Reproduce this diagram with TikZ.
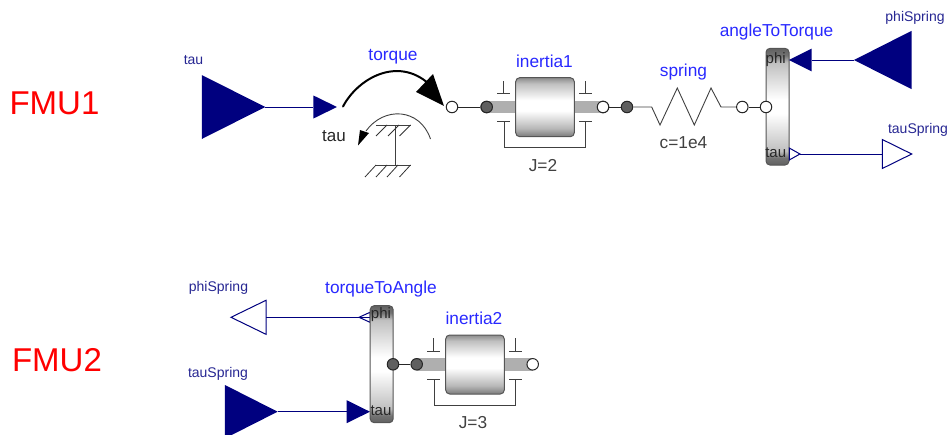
\documentclass[tikz,border=0pt]{standalone}
\usepackage{fontspec}
\setmainfont{Liberation Sans}
\definecolor{navy}{RGB}{0,0,127}
\definecolor{lbl}{RGB}{40,40,255}
\definecolor{edge}{RGB}{85,85,85}
\definecolor{hub}{RGB}{95,95,95}
\definecolor{shaftc}{RGB}{175,175,175}
\pgfdeclareverticalshading{bodyshade}{100bp}{color(0bp)=(black!52); color(25bp)=(black!52); color(32bp)=(black!28); color(47bp)=(white); color(56bp)=(white); color(70bp)=(black!25); color(75bp)=(black!45); color(100bp)=(black!45)}
\pgfdeclareverticalshading{flangeshade}{100bp}{color(0bp)=(black!62); color(25bp)=(black!62); color(28bp)=(black!55); color(31bp)=(black!25); color(47bp)=(white); color(53bp)=(white); color(69bp)=(black!25); color(72bp)=(black!55); color(75bp)=(black!62); color(100bp)=(black!62)}
\tikzset{
  x=1pt,y=-1pt,
  sig/.style={draw=navy,line width=1pt},
  mech/.style={draw=black!85,line width=1pt},
  thin mech/.style={draw=black!75,line width=.9pt},
  hatch/.style={draw=black!80,line width=.8pt},
  body/.style={draw=edge,line width=1pt,rounded corners=4pt,shading=bodyshade,minimum width=58.6pt,minimum height=59pt,inner sep=0pt},
  flange/.style={draw=edge,line width=1pt,rounded corners=4pt,shading=flangeshade,minimum width=23pt,inner sep=0pt},
  shaft/.style={fill=shaftc,draw=none,inner sep=0pt,minimum height=12.6pt},
  dark/.style={circle,draw=black!85,line width=1pt,fill=hub,minimum size=11.5pt,inner sep=0pt},
  light/.style={circle,draw=black!85,line width=1pt,fill=white,minimum size=11.5pt,inner sep=0pt},
  namelbl/.style={text=lbl,font=\fontsize{17.3}{19}\selectfont,inner sep=0pt},
  parlbl/.style={text=black!75,font=\fontsize{17.3}{19}\selectfont,inner sep=0pt},
  iolbl/.style={text=navy!85,font=\fontsize{14}{16}\selectfont,inner sep=0pt},
  fmulbl/.style={text=red,font=\fontsize{33}{36}\selectfont,inner sep=0pt},
  flangelbl/.style={text=black!85,font=\fontsize{15}{17}\selectfont,inner sep=0pt},
}
\newcommand{\triR}[5]{\node[inner sep=0pt,outer sep=0pt,minimum width=#3pt,minimum height=#4pt] (#1) at (#2) {};
  \path[#5,line join=miter] (#1.north west) -- (#1.south west) -- (#1.east) -- cycle;}
\newcommand{\triL}[5]{\node[inner sep=0pt,outer sep=0pt,minimum width=#3pt,minimum height=#4pt] (#1) at (#2) {};
  \path[#5,line join=miter] (#1.north east) -- (#1.south east) -- (#1.west) -- cycle;}
\begin{document}
\begin{tikzpicture}
\useasboundingbox (0,0) rectangle (950,434);
\clip (0,0) rectangle (950,434);
% FMU labels
\node[fmulbl] (fmuA) at (54.5,103.5) {FMU1};
\node[fmulbl] (fmuB) at (57,360.5) {FMU2};

% ---------- FMU1 ----------
\triR{tauIn}{233.5,107}{63.5}{64}{fill=navy}
\triR{torquePort}{325.2,107}{23.5}{23}{fill=navy}
\draw[sig] (tauIn.east) -- (torquePort.west);
\node[iolbl] (tauInLbl) at (193.5,60.5) {tau};
\node[namelbl] (torqueLbl) at (393,56.5) {torque};
\node[text=black!85,font=\fontsize{17}{19}\selectfont,inner sep=0pt] (tauLbl) at (334,136) {tau};

\node[light] (torqueFlange) at (452,107) {};
% torque arc
\coordinate (arcA) at (343,106.5);
\coordinate (arcB) at (429,84);
\draw[line width=2pt,line cap=round] (arcA) .. controls (358,78) and (398,56) .. (arcB);
\fill (433,74) -- (416,92) -- (444,106) -- cycle;
% support
\coordinate (supTopL) at (376,125);
\coordinate (supTopR) at (411,125);
\coordinate (supBotL) at (376,165);
\coordinate (supBotR) at (411,165);
\draw[thin mech] (supTopL) -- (supTopR);
\draw[thin mech] (supBotL) -- (supBotR);
\draw[thin mech] (395,125) -- (395,165);
\foreach \a in {0,12,23.5}{
  \draw[hatch] (387+\a,125) -- ++(-11,11);
}
\foreach \a in {0,11,22,34.5}{
  \draw[hatch] (376+\a,165) -- ++(-11,12);
}
\draw[thin mech] (430.5,139) .. controls (420,108) and (384,106) .. (366,131);
\fill (360,130) -- (369,133) -- (358,145.5) -- cycle;

% inertia1
\node[dark] (inertiaAl) at (486.7,107) {};
\node[light] (inertiaAr) at (603,107) {};
\draw[mech] (torqueFlange) -- (inertiaAl);
\node[shaft,minimum width=116pt] (shaftA) at (545,107) {};
\node[dark] at (inertiaAl) {};
\node[light] at (inertiaAr) {};
\node[body] (inertiaA) at (545,107.2) {};
\draw[thin mech] (497.3,93.3) -- (510,93.3) (503.6,93.3) -- (503.6,80.7);
\draw[thin mech] (579.3,93.3) -- (591.7,93.3) (585.7,93.3) -- (585.7,80.7);
\draw[thin mech] (497.3,121.7) -- (510,121.7) (579.3,121.7) -- (591.7,121.7);
\draw[thin mech] (504,121.7) -- (504,147.3) -- (585.3,147.3) -- (585.3,121.7);
\node[namelbl] (inertiaALbl) at (544.5,61) {inertia1};
\node[parlbl] (inertiaAPar) at (543,165.5) {J=2};

% spring
\node[dark] (springL) at (627,107) {};
\node[light] (springR) at (742.3,107) {};
\draw[mech] (inertiaAr) -- (springL);
\draw[thin mech] (springL.east) -- (651.7,107) -- (660,125) -- (677.3,88) -- (694.3,125) -- (711,88) -- (721,107) -- (springR.west);
\node[namelbl] (springLbl) at (683.5,72.5) {spring};
\node[parlbl] (springPar) at (683.5,142.5) {c=1e4};

% angleToTorque
\node[flange,minimum height=116.7pt] (angleToTorque) at (777.5,106.7) {};
\node[light] (atFlange) at (766,107) {};
\draw[mech] (springR) -- (atFlange);
\node[flangelbl] (atPhi) at (775.7,60) {phi};
\node[flangelbl] (atTau) at (775.7,153) {tau};
\node[namelbl] (atLbl) at (776.5,32.5) {angleToTorque};

\triL{phiPort}{800.3,60}{22.7}{22.7}{fill=navy}
\triL{phiSrc}{882.8,60}{57.7}{58.4}{fill=navy}
\draw[sig] (phiSrc.west) -- (phiPort.east);
\node[iolbl] (phiSrcLbl) at (915,18) {phiSpring};

\triR{tauPort}{794.6,154}{10.7}{12}{draw=navy,fill=white,line width=1pt}
\triR{tauOut}{897,154}{29.4}{29}{draw=navy,fill=white,line width=1pt}
\draw[sig] (tauPort.east) -- (tauOut.west);
\node[iolbl] (tauOutLbl) at (918,130) {tauSpring};

% ---------- FMU2 ----------
\triL{phiOut}{248.5,317.3}{35}{34}{draw=navy,fill=white,line width=1pt}
\triL{phiOutPort}{364.5,317.3}{11}{10}{draw=navy,fill=white,line width=1pt}
\draw[sig] (phiOutPort.east) -- (phiOut.east);
\node[iolbl] (phiOutLbl) at (218.5,288) {phiSpring};

\triR{tauSrc}{251.3,411.7}{52.7}{53.4}{fill=navy}
\triR{tauInPort}{358.3,411.7}{23.3}{23}{fill=navy}
\draw[sig] (tauSrc.east) -- (tauInPort.west);
\node[iolbl] (tauSrcLbl) at (218,373.5) {tauSpring};

\node[flange,minimum height=117pt] (torqueToAngle) at (381.7,364.2) {};
\node[flangelbl] (taPhi) at (381,315) {phi};
\node[flangelbl] (taTau) at (381,410.5) {tau};
\node[namelbl] (taLbl) at (381,289.5) {torqueToAngle};

\node[shaft,minimum width=116pt] (shaftB) at (474.7,364.5) {};
\node[dark] (taFlange) at (393,364.3) {};
\node[dark] (inertiaBl) at (416.7,364.3) {};
\node[light] (inertiaBr) at (532.7,364.3) {};
\draw[mech] (taFlange) -- (inertiaBl);
\node[body] (inertiaB) at (475,364.5) {};
\draw[thin mech] (427.3,351) -- (440,351) (433.7,351) -- (433.7,337.7);
\draw[thin mech] (509,351) -- (521.7,351) (515.3,351) -- (515.3,337.7);
\draw[thin mech] (427.3,379.3) -- (440,379.3) (509,379.3) -- (521.7,379.3);
\draw[thin mech] (434.3,379.3) -- (434.3,405) -- (515,405) -- (515,379.3);
\node[namelbl] (inertiaBLbl) at (474,318) {inertia2};
\node[parlbl] (inertiaBPar) at (473,423) {J=3};
\end{tikzpicture}
\end{document}
